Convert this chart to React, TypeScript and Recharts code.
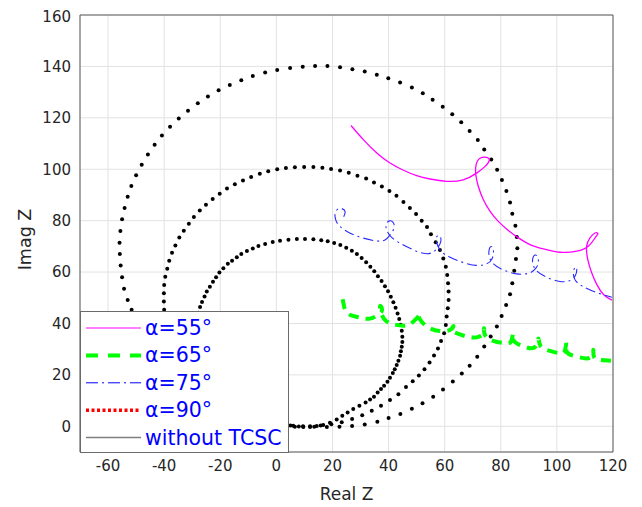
import React from "react";
import {
  CartesianGrid,
  Legend,
  Scatter,
  ScatterChart,
  XAxis,
  YAxis,
} from "recharts";

type Pt = [number, number];

const xTicks = [-60, -40, -20, 0, 20, 40, 60, 80, 100, 120];
const yTicks = [0, 20, 40, 60, 80, 100, 120, 140, 160];

// black dotted trajectories (no legend entry)
const outerDots: Pt[] = [
  [13.8, 140.2], [9.4, 139.9], [4.9, 139.4], [0.3, 138.6], [-4.0, 137.6], [-8.4, 136.3],
  [-12.5, 134.6], [-16.6, 132.8], [-20.6, 130.7], [-24.4, 128.3], [-28.0, 125.7], [-31.5, 122.8],
  [-34.8, 119.7], [-37.9, 116.5], [-40.8, 113.1], [-43.4, 109.5], [-45.8, 105.7], [-48.0, 101.7],
  [-50.0, 97.7], [-51.7, 93.5], [-53.0, 89.3], [-54.1, 84.9], [-55.0, 80.5], [-55.6, 76.0],
  [-55.9, 71.4], [-55.8, 67.0], [-55.5, 62.6], [-55.0, 58.0], [-54.3, 53.5], [-53.0, 49.1],
  [-51.6, 45.3], [-49.8, 41.2], [-47.5, 37.0], [-44.8, 32.8], [-41.6, 28.6], [-38.0, 24.6],
  [-34.0, 20.8], [-29.6, 17.2], [-24.8, 13.8], [-19.7, 10.6], [-14.3, 7.7], [-8.7, 5.1],
  [-3.0, 2.8], [2.0, 1.0], [6.0, 0.2],
  [18.2, 140.2], [22.7, 139.7], [27.1, 138.9], [31.5, 138.0], [35.8, 136.8], [39.9, 135.4],
  [44.1, 133.7], [48.3, 131.8], [52.2, 129.6], [55.7, 127.0], [59.3, 124.3], [62.7, 121.4],
  [65.9, 118.3], [68.9, 114.9], [71.8, 111.4], [74.1, 107.7], [76.6, 103.8], [78.7, 99.8],
  [80.4, 95.8], [82.0, 91.5], [83.3, 87.1], [84.1, 82.7], [85.2, 78.0], [85.7, 73.6],
  [85.9, 69.3], [85.4, 65.1], [84.8, 60.5], [84.1, 55.6], [83.3, 51.4], [81.9, 47.2],
  [80.3, 42.9], [78.6, 38.8], [76.4, 34.9], [74.1, 31.0], [71.6, 27.1], [68.9, 23.6],
  [66.1, 20.5], [62.9, 17.4], [59.4, 14.3], [55.9, 11.5], [52.1, 9.0], [48.3, 6.8],
  [44.2, 4.8], [40.0, 3.2], [36.0, 1.8], [31.5, 0.7], [27.0, 0.1], [22.5, -0.2],
  [18.0, -0.3], [13.5, -0.2], [9.5, 0],
];

const middleDots: Pt[] = [
  [13.2, 100.9], [9.9, 100.9], [6.6, 100.8], [3.4, 100.5], [0.3, 100.0], [-2.9, 99.2],
  [-5.9, 98.2], [-9.0, 97.0], [-11.9, 95.6], [-14.8, 94.2], [-17.6, 92.5], [-20.2, 90.5],
  [-22.7, 88.4], [-25.1, 86.2], [-27.3, 83.9], [-29.4, 81.4], [-31.2, 78.8], [-33.0, 76.1],
  [-34.6, 73.4], [-36.0, 70.3], [-37.2, 67.5], [-38.2, 64.4], [-38.9, 61.3], [-39.6, 58.2],
  [-40.0, 55.0], [-40.1, 51.8], [-40.1, 48.5], [-40.0, 45.3], [-39.6, 42.0], [-38.8, 38.5],
  [-37.5, 35.0], [-35.8, 31.5], [-33.7, 28.0], [-31.2, 24.5], [-28.3, 21.0], [-25.0, 17.7],
  [-21.3, 14.5], [-17.2, 11.5], [-12.8, 8.6], [-8.1, 6.0], [-3.2, 3.7], [1.5, 1.5], [5.0, 0.3],
  [16.4, 100.6], [19.5, 100.1], [22.7, 99.5], [25.8, 98.6], [28.9, 97.5], [32.0, 96.4],
  [34.8, 94.8], [37.6, 93.3], [40.3, 91.5], [42.8, 89.7], [45.3, 87.3], [47.6, 84.9],
  [49.8, 82.6], [51.8, 80.0], [53.7, 77.5], [55.1, 74.7], [56.8, 71.6], [58.3, 68.6],
  [59.5, 65.3], [60.4, 62.1], [60.9, 58.9], [61.2, 55.6], [61.4, 52.4], [61.4, 49.1],
  [61.1, 45.9], [60.7, 42.7], [60.4, 39.4], [59.8, 36.2], [58.7, 33.2], [57.6, 30.3],
  [56.2, 27.5], [54.6, 24.8], [52.8, 22.2], [50.8, 19.8], [48.6, 17.5], [46.2, 15.3],
  [43.5, 12.5], [40.5, 10.2], [37.3, 8.0], [34.0, 6.0], [30.6, 4.3], [27.0, 2.8],
  [23.3, 1.6], [19.6, 0.8], [15.8, 0.3], [12.0, 0], [8.0, -0.1],
];

const innerDots: Pt[] = [
  [13.2, 72.8], [10.2, 72.9], [7.3, 72.9], [4.3, 72.6], [1.3, 72.2], [-1.3, 71.7],
  [-4.0, 70.9], [-6.4, 70.1], [-8.4, 69.2], [-10.5, 68.2], [-12.5, 67.0], [-14.1, 65.8],
  [-15.8, 64.4], [-17.3, 63.2], [-18.9, 61.5], [-20.3, 59.8], [-21.5, 58.0], [-22.6, 56.2],
  [-23.7, 54.3], [-24.8, 52.4], [-25.6, 50.5], [-26.5, 48.4], [-27.2, 46.4], [-27.8, 44.2],
  [-28.2, 42.0], [-28.4, 39.6], [-28.4, 37.2], [-28.2, 34.8], [-27.8, 32.3], [-27.2, 29.8],
  [-26.4, 27.3], [-25.4, 24.8], [-24.1, 22.3], [-22.6, 19.8], [-20.8, 17.4], [-18.8, 15.0],
  [-16.5, 12.6], [-13.9, 10.3], [-11.0, 8.1], [-7.8, 6.0], [-4.4, 4.0], [-0.8, 2.2], [3.0, 0.6],
  [16.0, 72.4], [18.3, 72.0], [20.6, 71.3], [22.8, 70.5], [24.9, 69.5], [26.9, 68.3],
  [28.7, 67.0], [30.4, 65.5], [32.0, 63.8], [33.5, 62.1], [34.9, 60.3], [36.2, 58.4],
  [37.5, 56.5], [38.7, 54.5], [39.8, 52.5], [40.8, 50.4], [41.7, 48.3], [42.5, 46.1],
  [43.2, 43.9], [43.8, 41.7], [44.3, 39.5], [44.7, 37.2], [44.9, 34.8], [44.9, 32.8],
  [44.7, 30.9], [44.4, 29.2], [44.1, 27.4], [43.5, 25.5], [42.9, 23.8], [42.2, 22.2],
  [41.5, 20.7], [40.5, 18.9], [39.6, 17.3], [38.4, 15.8], [37.3, 14.5], [36.1, 13.1],
  [34.8, 11.5], [33.4, 10.4], [31.8, 9.3], [29.6, 8.0], [27.4, 6.7], [25.4, 5.4],
  [23.5, 4.1], [21.5, 2.6], [19.1, 1.4], [16.7, 0.5], [14.4, 0.1], [12.0, -0.3],
  [9.6, -0.3], [6.6, -0.2],
];

const alpha55: Pt[] = [
  [26.6, 117.0], [31.0, 111.5], [35.8, 106.3], [40.5, 102.4], [45.3, 99.6], [50.0, 97.5],
  [54.8, 96.2], [60.7, 95.3], [66.6, 95.9], [71.4, 98.5], [74.4, 101.1], [75.9, 103.4],
  [75.0, 104.6], [72.6, 104.3], [71.2, 101.7], [71.1, 97.8], [72.0, 93.3], [73.8, 88.1],
  [76.2, 83.6], [79.1, 79.7], [82.7, 76.2], [86.3, 73.3], [90.4, 70.7], [95.2, 69.0],
  [101.1, 67.7], [107.1, 68.1], [111.2, 70.0], [113.6, 73.3], [114.6, 74.9], [113.6, 75.2],
  [111.8, 73.3], [110.6, 70.0], [111.0, 64.9], [112.4, 59.7], [114.2, 55.2], [116.6, 51.3],
  [119.6, 49.1],
];

const alpha65: Pt[] = [
  [23.6, 49.4], [23.9, 47.9], [24.5, 45.3], [26.3, 43.3], [29.8, 42.3], [33.4, 41.9],
  [37.0, 44.0], [37.6, 45.9], [37.0, 46.8], [37.2, 44.6], [38.7, 41.4], [41.7, 39.7],
  [45.3, 39.1], [47.6, 39.7], [50.0, 42.0], [51.2, 43.7], [50.6, 43.3], [51.8, 40.7],
  [54.8, 38.1], [58.3, 37.1], [61.9, 37.5], [63.1, 39.0], [62.5, 37.5], [64.3, 36.2],
  [67.9, 34.9], [71.4, 34.6], [73.8, 36.2], [74.0, 38.1], [74.4, 35.5], [77.3, 33.2],
  [82.1, 32.3], [83.9, 33.6], [84.3, 36.2], [84.5, 33.6], [86.9, 31.6], [90.4, 30.4],
  [92.8, 31.6], [93.4, 34.2], [94.0, 31.6], [96.4, 29.7], [101.1, 28.4], [102.9, 29.7],
  [103.3, 32.5], [103.5, 29.0], [107.1, 27.1], [111.8, 26.7], [113.0, 29.7], [113.2, 27.1],
  [115.4, 25.8], [120.0, 25.5],
];

const alpha75: Pt[] = [
  [24.0, 81.5], [24.5, 83.5], [23.3, 84.7], [21.7, 84.3], [20.9, 82.5], [21.2, 80.2],
  [22.7, 77.7], [26.3, 75.1], [31.0, 73.2], [35.8, 72.1], [38.7, 72.5], [40.5, 74.4],
  [41.9, 77.0], [41.7, 79.2], [40.3, 79.9], [39.1, 78.3], [39.6, 75.7], [41.1, 73.5],
  [44.1, 71.2], [48.3, 68.9], [52.4, 67.3], [55.4, 67.5], [57.4, 69.3], [58.6, 71.8],
  [58.3, 74.0], [57.2, 73.8], [57.2, 71.2], [58.9, 67.9], [61.9, 65.8], [66.6, 63.7],
  [71.4, 62.6], [75.0, 63.2], [76.8, 65.0], [77.4, 67.9], [76.8, 69.9], [75.9, 68.9],
  [75.9, 66.0], [77.4, 63.2], [80.9, 60.8], [85.7, 59.3], [89.8, 59.5], [92.2, 61.1],
  [93.4, 63.7], [92.8, 66.4], [91.6, 66.0], [91.4, 63.4], [92.8, 60.5], [96.4, 58.0],
  [101.1, 56.3], [104.7, 56.7], [106.5, 58.5], [107.1, 61.1], [106.5, 61.9], [105.9, 59.8],
  [106.5, 56.9], [109.4, 54.3], [114.2, 52.0], [119.6, 50.2],
];

const legendItems = [
  { label: "α=55°", stroke: "#ff00ff", width: 1.2, dash: undefined },
  { label: "α=65°", stroke: "#00ff00", width: 4, dash: "12 10" },
  { label: "α=75°", stroke: "#0000ff", width: 1, dash: "12 4 2 4" },
  { label: "α=90°", stroke: "#ff0000", width: 3.5, dash: "3 2.5" },
  { label: "without TCSC", stroke: "#7f7f7f", width: 1.5, dash: undefined },
];

const toPts = (arr: Pt[]) => arr.map(([x, y]) => ({ x, y }));

const axisColor = "#5a5a5a";
const tickFont = { fontFamily: "DejaVu Sans", fontSize: 15, fill: "#262626" };

const Dot = (p: any) => <circle cx={p.cx} cy={p.cy} r={2} fill="#000" />;
const NoDot = () => <g />;

const LegendBox = () => (
  <svg width={208} height={141}>
    {legendItems.map((it, i) => {
      const y = 16 + i * 27.4;
      return (
        <g key={it.label}>
          <line
            x1={5}
            x2={60}
            y1={y}
            y2={y}
            stroke={it.stroke}
            strokeWidth={it.width}
            strokeDasharray={it.dash}
          />
          <text
            x={64}
            y={y}
            dominantBaseline="central"
            fontFamily="DejaVu Sans"
            fontSize={20.5}
            fill="#0000ff"
          >
            {it.label}
          </text>
        </g>
      );
    })}
  </svg>
);

const YLabel = (props: any) => {
  const vb = props.viewBox;
  const cy = vb.y + vb.height / 2 + 6;
  return (
    <text
      x={17}
      y={cy}
      transform={`rotate(-90, 17, ${cy})`}
      textAnchor="middle"
      dominantBaseline="central"
      fontFamily="DejaVu Sans"
      fontSize={17.5}
      fill="#262626"
    >
      Imag Z
    </text>
  );
};

const XLabel = (props: any) => {
  const vb = props.viewBox;
  return (
    <text
      x={vb.x + vb.width / 2}
      y={486}
      textAnchor="middle"
      dominantBaseline="central"
      fontFamily="DejaVu Sans"
      fontSize={17}
      fill="#262626"
    >
      Real Z
    </text>
  );
};

export default function App() {
  return (
    <ScatterChart
      width={630}
      height={495}
      margin={{ top: 7, right: 25, bottom: 0, left: 12 }}
    >
      <CartesianGrid stroke="#e2e2e2" />

      <XAxis
        type="number"
        dataKey="x"
        domain={[-70, 120]}
        ticks={xTicks}
        allowDataOverflow
        height={51}
        tickSize={0}
        tickMargin={8}
        tick={tickFont}
        axisLine={{ stroke: axisColor }}
        tickLine={false}
        label={<XLabel />}
      />
      <XAxis
        xAxisId="bottomTicks"
        type="number"
        dataKey="x"
        orientation="bottom"
        mirror
        domain={[-70, 120]}
        ticks={xTicks}
        allowDataOverflow
        tick={false}
        tickSize={5}
        axisLine={false}
        tickLine={{ stroke: axisColor }}
      />
      <XAxis
        xAxisId="top"
        type="number"
        dataKey="x"
        orientation="top"
        mirror
        domain={[-70, 120]}
        ticks={xTicks}
        allowDataOverflow
        tick={false}
        tickSize={5}
        axisLine={{ stroke: axisColor }}
        tickLine={{ stroke: axisColor }}
      />

      <YAxis
        type="number"
        dataKey="y"
        domain={[-10, 160]}
        ticks={yTicks}
        allowDataOverflow
        width={60}
        tickSize={0}
        tickMargin={9}
        tick={tickFont}
        axisLine={{ stroke: axisColor }}
        tickLine={false}
        label={<YLabel />}
      />
      <YAxis
        yAxisId="leftTicks"
        type="number"
        dataKey="y"
        orientation="left"
        mirror
        domain={[-10, 160]}
        ticks={yTicks}
        allowDataOverflow
        tick={false}
        tickSize={5}
        axisLine={false}
        tickLine={{ stroke: axisColor }}
      />
      <YAxis
        yAxisId="right"
        type="number"
        dataKey="y"
        orientation="right"
        mirror
        domain={[-10, 160]}
        ticks={yTicks}
        allowDataOverflow
        tick={false}
        tickSize={5}
        axisLine={{ stroke: axisColor }}
        tickLine={{ stroke: axisColor }}
      />

      <Scatter data={toPts(outerDots)} shape={Dot} isAnimationActive={false} />
      <Scatter data={toPts(middleDots)} shape={Dot} isAnimationActive={false} />
      <Scatter data={toPts(innerDots)} shape={Dot} isAnimationActive={false} />

      <Scatter
        data={toPts(alpha55)}
        fill="#ff00ff"
        line={{ stroke: "#ff00ff", strokeWidth: 1.3 }}
        lineJointType="natural"
        shape={NoDot}
        isAnimationActive={false}
      />
      <Scatter
        data={toPts(alpha65)}
        fill="#00ff00"
        line={{ stroke: "#00ff00", strokeWidth: 4, strokeDasharray: "10 7" }}
        lineJointType="natural"
        shape={NoDot}
        isAnimationActive={false}
      />
      <Scatter
        data={toPts(alpha75)}
        fill="#0000ff"
        line={{ stroke: "#2a2aff", strokeWidth: 1.1, strokeDasharray: "10 4 2 4" }}
        lineJointType="natural"
        shape={NoDot}
        isAnimationActive={false}
      />

      <Legend
        layout="horizontal"
        verticalAlign="middle"
        align="center"
        content={<LegendBox />}
        wrapperStyle={{
          left: 72,
          top: 303,
          width: 209,
          height: 142,
          background: "#fff",
          border: "1px solid #6a6a6a",
          boxSizing: "border-box",
          lineHeight: 0,
        }}
      />
    </ScatterChart>
  );
}
